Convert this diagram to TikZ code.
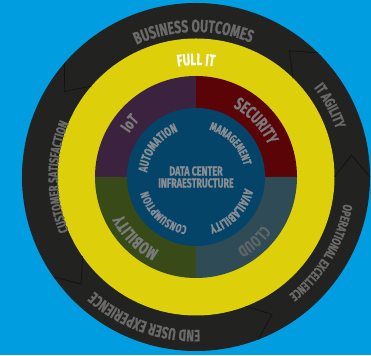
\documentclass[tikz,border=0pt]{standalone}
\usepackage{fontspec}
\usetikzlibrary{calc,decorations.text}
\newfontfamily\cond[FakeStretch=0.69,FakeBold=0.6]{Fira Sans Bold}
\definecolor{bgblue}{RGB}{0,158,224}
\definecolor{ringdark}{RGB}{34,34,32}
\definecolor{ringyellow}{RGB}{221,208,11}
\definecolor{qpurple}{RGB}{59,35,64}
\definecolor{qred}{RGB}{90,4,8}
\definecolor{qgreen}{RGB}{55,74,24}
\definecolor{qslate}{RGB}{47,75,86}
\definecolor{innerblue}{RGB}{5,68,105}
\definecolor{ringtxt}{RGB}{106,106,106}
\definecolor{quadtxt}{RGB}{122,122,122}
\definecolor{cloudtxt}{RGB}{95,100,102}
\definecolor{innertxt}{RGB}{138,142,146}
\definecolor{chevline}{RGB}{18,18,18}
\tikzset{chev/.style={draw=chevline,line width=0.7pt,line join=miter}}
\newcommand\arctext[6]{%
  \path[decorate,decoration={text along path,text align=center,text color=#5,
    text={|\cond\fontsize{#4}{#4}\selectfont|#6}}]
    ($(C)+({#1+#3}:#2)$) arc[start angle={#1+#3},end angle={#1-#3},radius=#2];}
\begin{document}
\begin{tikzpicture}[x=1pt,y=1pt]
\useasboundingbox (0,0) rectangle (371,355);
\fill[bgblue] (0,0) rectangle (371,355);
\coordinate (C) at (196,178);
% rings
\fill[ringdark] (C) circle[radius=174];
\fill[ringyellow] (C) circle[radius=138.5];
% quadrants
\fill[qpurple] (C) -- ++(180:101) arc[start angle=180,end angle=90,radius=101] -- cycle;
\fill[qred] (C) -- ++(90:101) arc[start angle=90,end angle=0,radius=101] -- cycle;
\fill[qslate] (C) -- ++(0:101) arc[start angle=0,end angle=-90,radius=101] -- cycle;
\fill[qgreen] (C) -- ++(-90:101) arc[start angle=-90,end angle=-180,radius=101] -- cycle;
\fill[innerblue] (C) circle[radius=69];
% chevrons in the outer ring
\foreach \a in {0,45.5,139,215,291}{
  \draw[chev] ($(C)+(\a:138.5)$) -- ($(C)+({\a+8}:157)$) -- ($(C)+(\a:174)$);
}
% outer ring texts
\arctext{91}{145}{60}{17.5}{ringtxt}{BUSINESS OUTCOMES}
\arctext{28}{148}{40}{15}{ringtxt}{IT AGILITY}
\arctext{-31}{150}{60}{13}{ringtxt}{OPERATIONAL EXCELLENCE}
\arctext{250}{153}{60}{16.5}{ringtxt}{END USER EXPERIENCE}
\arctext{180}{138}{60}{13.8}{ringtxt}{CUSTOMER SATISFACTION}
% yellow ring
\arctext{90}{112}{40}{16.5}{white}{FULL IT}
% quadrant texts
\arctext{141}{80}{45}{16.5}{quadtxt}{IoT}
\arctext{43}{79}{45}{17.5}{quadtxt}{SECURITY}
\arctext{225}{82}{45}{17.5}{quadtxt}{MOBILITY}
\arctext{-48}{82}{45}{16.5}{cloudtxt}{CLOUD}
% inner texts
\arctext{143}{49}{80}{13}{innertxt}{AUTOMATION}
\arctext{44}{49}{80}{12}{innertxt}{MANAGEMENT}
\arctext{228}{50}{80}{12}{innertxt}{CONSUMPTION}
\arctext{-44}{50}{80}{13}{innertxt}{AVAILABILITY}
\node[text=innertxt,align=center,font=\cond\fontsize{13}{12}\selectfont] (dc) at (C) {DATA CENTER\\INFRAESTRUCTURE};
\end{tikzpicture}
\end{document}
